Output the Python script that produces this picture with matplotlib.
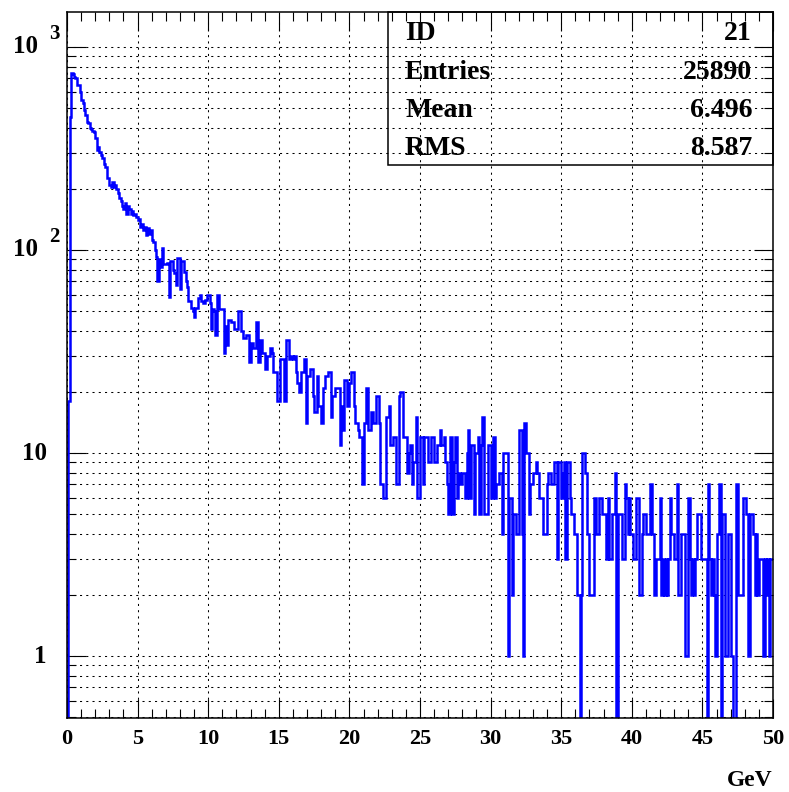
import numpy as np
import matplotlib.pyplot as plt
import matplotlib.transforms as mtransforms
from matplotlib.ticker import FixedLocator, NullFormatter, LogLocator

plt.rcParams['font.family'] = ['Liberation Serif', 'DejaVu Serif']
plt.rcParams['font.weight'] = 'bold'

# energy spectrum, 500 bins of 0.1 GeV from 0 to 50 GeV (one row = 1 GeV)
counts = [
    0, 18, 450, 745, 740, 715, 700, 650, 650, 600,
    550, 530, 490, 460, 425, 420, 400, 395, 385, 380,
    355, 310, 320, 305, 295, 285, 265, 255, 225, 225,
    210, 205, 215, 205, 210, 200, 190, 180, 175, 165,
    160, 170, 150, 165, 160, 150, 155, 148, 150, 145,
    140, 142, 130, 135, 125, 130, 118, 128, 120, 125,
    112, 110, 100, 92, 70, 90, 82, 102, 85, 85,
    85, 86, 59, 88, 88, 80, 77, 67, 91, 91,
    64, 88, 88, 78, 70, 66, 56, 56, 52, 50,
    47, 52, 52, 58, 60, 56, 55, 55, 57, 60,
    60, 55, 41, 51, 50, 38, 60, 60, 51, 51,
    51, 31, 42, 34, 45, 45, 44, 44, 41, 41,
    41, 50, 50, 40, 40, 37, 37, 38, 38, 28,
    35, 35, 33, 33, 44, 28, 28, 36, 31, 31,
    26, 26, 30, 30, 33, 31, 25, 25, 25, 18,
    18, 29, 29, 29, 18, 36, 36, 29, 29, 30,
    29, 30, 25, 22, 20, 20, 25, 25, 29, 14,
    24, 24, 26, 26, 19, 16, 16, 24, 17, 17,
    14, 21, 21, 24, 24, 25, 25, 15, 19, 19,
    21, 21, 21, 11, 17, 13, 23, 23, 17, 17,
    22, 25, 25, 17, 14, 14, 13, 12, 12, 7,
    14, 14, 21, 13, 13, 16, 16, 14, 14, 19,
    19, 14, 7, 7, 6, 6, 15, 15, 17, 11,
    11, 12, 12, 7, 7, 19, 20, 20, 12, 12,
    12, 8, 10, 11, 7, 9, 9, 15, 6, 6,
    12, 12, 7, 12, 12, 12, 9, 9, 12, 12,
    9, 9, 11, 11, 13, 11, 11, 12, 9, 7,
    5, 12, 12, 5, 9, 12, 6, 8, 7, 7,
    8, 8, 6, 10, 13, 6, 11, 11, 5, 10,
    10, 12, 5, 11, 15, 5, 5, 5, 11, 11,
    6, 6, 12, 6, 7, 7, 8, 8, 4, 10,
    10, 10, 1, 6, 6, 2, 5, 5, 4, 4,
    13, 13, 4, 1, 14, 10, 10, 5, 7, 7,
    8, 8, 9, 8, 6, 6, 6, 4, 4, 4,
    7, 8, 8, 7, 7, 9, 9, 3, 9, 9,
    6, 8, 9, 3, 9, 9, 6, 5, 5, 4,
    4, 2, 2, 0, 2, 10, 10, 8, 4, 4,
    2, 2, 2, 6, 6, 4, 4, 6, 6, 5,
    5, 5, 3, 6, 3, 3, 5, 5, 8, 0,
    5, 5, 5, 3, 3, 7, 6, 4, 6, 4,
    4, 3, 3, 6, 6, 2, 2, 4, 5, 5,
    4, 4, 4, 7, 4, 4, 2, 3, 3, 3,
    6, 2, 3, 2, 3, 2, 3, 6, 4, 4,
    3, 3, 7, 2, 2, 4, 4, 4, 1, 1,
    6, 3, 2, 3, 2, 3, 5, 5, 5, 3,
    3, 3, 3, 0, 7, 3, 2, 3, 2, 1,
    4, 4, 7, 0, 5, 5, 1, 1, 4, 4,
    1, 1, 0, 0, 7, 2, 2, 2, 2, 6,
    6, 5, 1, 1, 5, 5, 4, 2, 4, 2,
    3, 3, 3, 1, 3, 2, 3, 1, 3, 3,
]
x_min, x_max = 0, 50
x_ticks = [0, 5, 10, 15, 20, 25, 30, 35, 40, 45, 50]
y_ticks = [1, 10, 100, 1000]
y_mantissa = ['1', '10', '10', '10']
y_exponent = ['', '', '2', '3']
stats_names = ['ID', 'Entries', 'Mean', 'RMS']
stats_values = ['21', '25890', '6.496', '8.587']

edges = np.linspace(x_min, x_max, len(counts) + 1)

fig = plt.figure(figsize=(7.89, 7.92), dpi=100)
ax = fig.add_axes([0.0849, 0.0934, 0.8948, 0.8914])

ax.set_yscale('log', nonpositive='clip')
ax.stairs(counts, edges, baseline=None, color='#0000ff', lw=1.8)

ax.set_xlim(x_min, x_max)
ax.set_ylim(0.495, 1486)

# ticks on all four sides, pointing inwards
ax.xaxis.set_major_locator(FixedLocator(x_ticks))
ax.xaxis.set_minor_locator(FixedLocator(np.arange(x_min, x_max + 1, 1)))
ax.yaxis.set_major_locator(FixedLocator(y_ticks))
ax.yaxis.set_minor_locator(LogLocator(base=10, subs=np.arange(2, 10), numticks=20))
ax.yaxis.set_major_formatter(NullFormatter())
ax.yaxis.set_minor_formatter(NullFormatter())
ax.tick_params(which='both', direction='in', top=True, right=True,
               width=0.8, color='black')
ax.tick_params(which='major', length=13.5)
ax.tick_params(which='minor', length=6.5)
ax.tick_params(axis='x', which='major', labelsize=16, pad=8)
for lab in ax.get_xticklabels():
    lab.set_fontweight('bold')

for side in ax.spines.values():
    side.set_linewidth(1.1)
    side.set_color('black')

grid_kw = dict(color='black', lw=0.75, ls=(0, (2, 4)))
ax.grid(axis='x', which='major', **grid_kw)
ax.grid(axis='y', which='both', **grid_kw)
ax.set_axisbelow(True)

# log-axis labels: mantissa plus a detached raised exponent
trans = mtransforms.blended_transform_factory(ax.transAxes, ax.transData)
sup_trans = mtransforms.offset_copy(trans, fig=fig, x=0, y=9, units='points')
for val, mant, expo in zip(y_ticks, y_mantissa, y_exponent):
    if expo:
        ax.text(-0.041, val, mant, transform=trans, ha='right', va='center',
                fontsize=18, fontweight='bold')
        ax.text(-0.026, val, expo, transform=sup_trans, ha='left',
                va='center', fontsize=15, fontweight='bold')
    else:
        ax.text(-0.029, val, mant, transform=trans, ha='right', va='center',
                fontsize=18, fontweight='bold')

ax.text(1.0, -0.088, 'GeV', transform=ax.transAxes, ha='right', va='center',
        fontsize=17, fontweight='bold')

# statistics box
box = plt.Rectangle((0.4547, 0.7833), 1 - 0.4547, 1 - 0.7833,
                    transform=ax.transAxes, fill=False, ec='black', lw=1.1,
                    clip_on=False, zorder=5)
ax.add_patch(box)
for k, (name, value) in enumerate(zip(stats_names, stats_values)):
    yy = 0.969 - k * 0.0543
    ax.text(0.4788, yy, name, transform=ax.transAxes, ha='left', va='center',
            fontsize=20, fontweight='bold', zorder=6)
    ax.text(0.9703, yy, value, transform=ax.transAxes, ha='right', va='center',
            fontsize=20, fontweight='bold', zorder=6)

fig.savefig('out.png', dpi=100)
